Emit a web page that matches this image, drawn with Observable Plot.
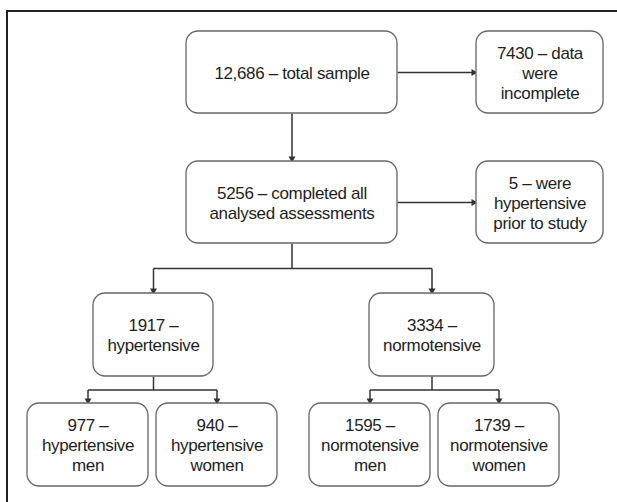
<!DOCTYPE html>
<html>
<head>
<meta charset="utf-8">
<script src="https://cdn.jsdelivr.net/npm/d3@7"></script>
<script src="https://cdn.jsdelivr.net/npm/@observablehq/plot@0.6"></script>
<style>
  html, body { margin: 0; padding: 0; background: #fff; overflow: hidden; }
  svg { display: block; }
</style>
</head>
<body>
<div id="chart"></div>
<script>
// ---- Data: flowchart nodes (counts and descriptions) ----
const counts = ["12,686", "7430", "5256", "5", "1917", "3334", "977", "940", "1595", "1739"];
const descriptions = [
  "total sample",
  "data\nwere\nincomplete",
  "completed all\nanalysed assessments",
  "were\nhypertensive\nprior to study",
  "\nhypertensive",
  "\nnormotensive",
  "\nhypertensive\nmen",
  "\nhypertensive\nwomen",
  "\nnormotensive\nmen",
  "\nnormotensive\nwomen"
];
// parent of each node (null = root); edge kind: "side" exclusion, "down" continuation, "branch" split
const parents = [null, 0, 0, 2, 2, 2, 4, 4, 5, 5];
const edgeKinds = [null, "side", "down", "side", "branch", "branch", "branch", "branch", "branch", "branch"];

// ---- Layout (pixel space of the figure) ----
const W = 617, H = 502;
const colX = [[186, 397], [476, 603], [186, 397], [476, 603], [93, 213], [369, 494], [27, 148], [156, 277], [309, 430], [438, 559]];
const rowY = [[31, 113], [31, 113], [161, 243], [161, 243], [293, 376], [293, 376], [403, 486], [403, 486], [403, 486], [403, 486]];

const nodes = counts.map((c, i) => ({
  i,
  label: descriptions[i].startsWith("\n") ? c + " –" + descriptions[i] : c + " – " + descriptions[i],
  x1: colX[i][0], x2: colX[i][1], y1: rowY[i][0], y2: rowY[i][1],
  cx: (colX[i][0] + colX[i][1]) / 2, cy: (rowY[i][0] + rowY[i][1]) / 2
}));

// connector segments and arrowheads
const segments = [];
const heads = [];
const done = new Set();
nodes.forEach((n, i) => {
  const p = parents[i];
  if (p == null) return;
  const P = nodes[p];
  const kind = edgeKinds[i];
  if (kind === "side") {
    segments.push({x1: P.x2, y1: P.cy, x2: n.x1 - 3, y2: P.cy});
    heads.push({x: n.x1 - 3, y: P.cy, rotate: 90});
  } else if (kind === "down") {
    segments.push({x1: P.cx, y1: P.y2, x2: P.cx, y2: n.y1 - 3});
    heads.push({x: P.cx, y: n.y1 - 3, rotate: 180});
  } else {
    const by = (P.y2 + n.y1) / 2;
    const sibs = nodes.filter((m, j) => parents[j] === p && edgeKinds[j] === "branch");
    if (!done.has(p)) {
      done.add(p);
      segments.push({x1: P.cx, y1: P.y2, x2: P.cx, y2: by});
      segments.push({x1: d3.min(sibs, s => s.cx), y1: by, x2: d3.max(sibs, s => s.cx), y2: by});
    }
    segments.push({x1: n.cx, y1: by, x2: n.cx, y2: n.y1 - 3});
    heads.push({x: n.cx, y: n.y1 - 3, rotate: 180});
  }
});

const font = "'Liberation Sans', Arial, Helvetica, sans-serif";

const plot = Plot.plot({
  width: W,
  height: H,
  margin: 0,
  style: {fontFamily: font, background: "#fff", letterSpacing: "-0.35px"},
  x: {domain: [0, W], range: [0, W], axis: null},
  y: {domain: [0, H], range: [0, H], axis: null},
  marks: [
    // outer frame (top & left edges visible)
    Plot.ruleY([10.5], {x1: 6, x2: W, stroke: "#222", strokeWidth: 2}),
    Plot.ruleX([6.5], {y1: 10, y2: H, stroke: "#222", strokeWidth: 2}),
    // connectors
    Plot.link(segments, {x1: "x1", y1: "y1", x2: "x2", y2: "y2", stroke: "#333", strokeWidth: 1.5}),
    Plot.dot(heads, {x: "x", y: "y", rotate: "rotate", symbol: "triangle", r: 2.6, fill: "#333", stroke: "none"}),
    // boxes
    Plot.rect(nodes, {x1: "x1", x2: "x2", y1: "y1", y2: "y2", rx: 12, ry: 12, fill: "#fff", stroke: "#666", strokeWidth: 1.3}),
    // labels
    Plot.text(nodes, {x: "cx", y: "cy", text: "label", fontSize: 17, lineHeight: 1.18, fill: "#1e1e1e", textAnchor: "middle", lineAnchor: "middle"})
  ]
});
document.getElementById("chart").append(plot);
</script>
</body>
</html>
